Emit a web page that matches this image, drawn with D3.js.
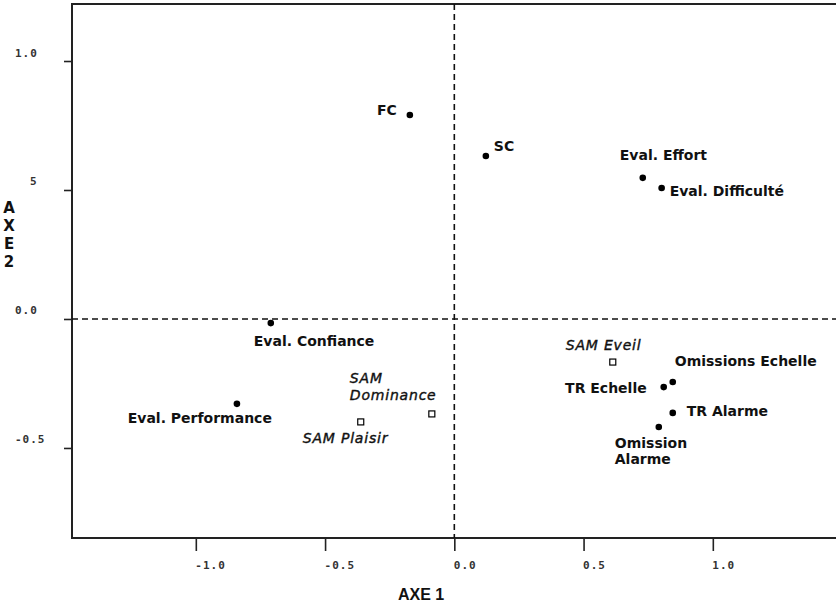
<!DOCTYPE html>
<html>
<head>
<meta charset="utf-8">
<script src="https://cdn.jsdelivr.net/npm/d3@7"></script>
<style>
  body { margin: 0; background: #fff; }
  svg { display: block; }
</style>
</head>
<body>
<div id="chart"></div>
<script>
// points of the factor map (axe 1, axe 2)
const names = ["FC", "SC", "Eval. Effort", "Eval. Difficulté", "Eval. Confiance",
  "Eval. Performance", "SAM Dominance", "SAM Plaisir", "SAM Eveil",
  "TR Echelle", "Omissions Echelle", "TR Alarme", "Omission Alarme"];
const axe1 = [-0.172, 0.122, 0.729, 0.802, -0.710, -0.841, -0.087, -0.362, 0.613, 0.810, 0.845, 0.845, 0.791];
const axe2 = [0.791, 0.632, 0.547, 0.508, -0.016, -0.329, -0.368, -0.399, -0.167, -0.264, -0.244, -0.364, -0.419];
// "var" = evaluation / physio variables (dot), "sam" = SAM scales (open square)
const kinds = ["var", "var", "var", "var", "var", "var", "sam", "sam", "sam", "var", "var", "var", "var"];

const xTicks = [-1.0, -0.5, 0.0, 0.5, 1.0];
const xTickLabels = ["-1.0", "-0.5", "0.0", "0.5", "1.0"];
const yTicks = [1.0, 0.5, 0.0, -0.5];
const yTickLabels = ["1.0", "5", "0.0", "-0.5"];

// label placement relative to each point
const labelPos = {
  "FC": { dx: -13, dy: [0], anchor: "end" },
  "SC": { dx: 8, dy: [-5], anchor: "start" },
  "Eval. Effort": { dx: -23, dy: [-18], anchor: "start" },
  "Eval. Difficulté": { dx: 8, dy: [8], anchor: "start" },
  "Eval. Confiance": { dx: -17, dy: [23], anchor: "start" },
  "Eval. Performance": { dx: 35, dy: [19], anchor: "end" },
  "SAM Dominance": { dx: -82, dy: [-31, -14], anchor: "start", lines: ["SAM", "Dominance"] },
  "SAM Plaisir": { dx: -58, dy: [21], anchor: "start" },
  "SAM Eveil": { dx: -47, dy: [-12], anchor: "start" },
  "TR Echelle": { dx: -17, dy: [6], anchor: "end" },
  "Omissions Echelle": { dx: 2, dy: [-16], anchor: "start" },
  "TR Alarme": { dx: 14, dy: [3], anchor: "start" },
  "Omission Alarme": { dx: -44, dy: [21, 37], anchor: "start", lines: ["Omission", "Alarme"] }
};

const W = 836, H = 605;
const pLeft = 72, pTop = 4, pRight = 840, pBottom = 538;

const svg = d3.select("#chart").append("svg")
  .attr("width", W).attr("height", H);

const x = d3.scaleLinear().domain([-1.479, 1.492]).range([pLeft, pRight]);
const y = d3.scaleLinear().domain([-0.849, 1.221]).range([pBottom, pTop]);

// frame
svg.append("rect")
  .attr("x", pLeft).attr("y", pTop)
  .attr("width", pRight - pLeft).attr("height", pBottom - pTop)
  .attr("fill", "none").attr("stroke", "#222").attr("stroke-width", 2);

// dashed reference lines through the origin
svg.append("line")
  .attr("x1", x(0)).attr("x2", x(0)).attr("y1", pTop).attr("y2", pBottom)
  .attr("stroke", "#111").attr("stroke-width", 1.6).attr("stroke-dasharray", "6,4");
svg.append("line")
  .attr("x1", pLeft).attr("x2", pRight).attr("y1", y(0)).attr("y2", y(0))
  .attr("stroke", "#111").attr("stroke-width", 1.6).attr("stroke-dasharray", "6,4");

// X axis
const gx = svg.append("g")
  .attr("transform", "translate(0," + pBottom + ")")
  .call(d3.axisBottom(x).tickValues(xTicks)
    .tickFormat((d, i) => xTickLabels[i]).tickSize(13).tickSizeOuter(0));
gx.select(".domain").remove();
gx.selectAll(".tick line").attr("stroke", "#222").attr("stroke-width", 1.6);
gx.selectAll(".tick text")
  .attr("text-anchor", "start").attr("x", -1).attr("y", 31).attr("dy", 0)
  .style("font-family", "'DejaVu Sans Mono', monospace")
  .style("font-size", "11px").style("font-weight", "bold")
  .style("letter-spacing", "1px").attr("fill", "#333");

// Y axis
const gy = svg.append("g")
  .attr("transform", "translate(" + pLeft + ",0)")
  .call(d3.axisLeft(y).tickValues(yTicks)
    .tickFormat((d, i) => yTickLabels[i]).tickSize(8).tickSizeOuter(0));
gy.select(".domain").remove();
gy.selectAll(".tick line").attr("stroke", "#222").attr("stroke-width", 1.6);
gy.selectAll(".tick text")
  .attr("text-anchor", "start")
  .attr("x", (d, i) => yTickLabels[i].length === 1 ? -42 : -57)
  .attr("y", -5).attr("dy", 0)
  .style("font-family", "'DejaVu Sans Mono', monospace")
  .style("font-size", "11px").style("font-weight", "bold")
  .style("letter-spacing", "1px").attr("fill", "#333");

// axis titles
svg.append("text")
  .attr("x", 398).attr("y", 600)
  .style("font-family", "'Liberation Sans', Arial, sans-serif")
  .style("font-weight", "bold").style("font-size", "16px")
  .attr("fill", "#111")
  .text("AXE 1");

svg.append("text")
  .attr("x", 9).attr("y", 213)
  .attr("text-anchor", "middle")
  .style("font-family", "'DejaVu Sans', sans-serif")
  .style("font-weight", "bold").style("font-size", "15px")
  .attr("fill", "#111")
  .selectAll("tspan")
  .data(["A", "X", "E", "2"])
  .join("tspan")
  .attr("x", 9)
  .attr("dy", (d, i) => i === 0 ? 0 : 18)
  .text(d => d);

// points
const pts = names.map((n, i) => ({ name: n, a1: axe1[i], a2: axe2[i], kind: kinds[i] }));

svg.selectAll("circle.pt")
  .data(pts.filter(d => d.kind === "var"))
  .join("circle")
  .attr("class", "pt")
  .attr("cx", d => x(d.a1)).attr("cy", d => y(d.a2))
  .attr("r", 3.3).attr("fill", "#000");

svg.selectAll("rect.pt")
  .data(pts.filter(d => d.kind === "sam"))
  .join("rect")
  .attr("class", "pt")
  .attr("x", d => x(d.a1) - 3).attr("y", d => y(d.a2) - 3)
  .attr("width", 6).attr("height", 6)
  .attr("fill", "#fff").attr("stroke", "#000").attr("stroke-width", 1.2);

// labels
pts.forEach(d => {
  const p = labelPos[d.name];
  const lines = p.lines || [d.name];
  const isSam = d.kind === "sam";
  const t = svg.append("text")
    .attr("text-anchor", p.anchor)
    .style("font-family", "'DejaVu Sans', Verdana, sans-serif")
    .style("font-size", "14px")
    .style("font-weight", isSam ? "normal" : "bold")
    .style("font-style", isSam ? "italic" : "normal")
    .style("letter-spacing", isSam ? "0.8px" : "0px")
    .attr("fill", "#111")
    .attr("stroke", isSam ? "#111" : "none")
    .attr("stroke-width", isSam ? 0.4 : 0);
  lines.forEach((ln, k) => {
    t.append("tspan")
      .attr("x", x(d.a1) + p.dx)
      .attr("y", y(d.a2) + p.dy[k])
      .text(ln);
  });
});
</script>
</body>
</html>
